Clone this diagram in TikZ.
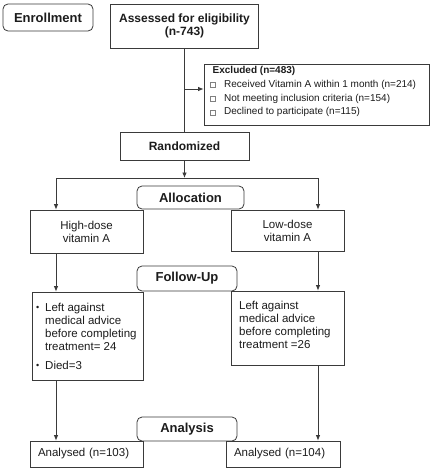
\documentclass[tikz,border=0pt]{standalone}
\usepackage{fontspec}
\setmainfont{Liberation Sans}
\usetikzlibrary{arrows.meta}
\definecolor{ink}{HTML}{3A3A3A}
\definecolor{txt}{HTML}{1C1C1C}
\newcommand{\exclsq}{{\color{gray}\fboxsep=0pt\fboxrule=0.5pt\fbox{\rule{0pt}{4.5pt}\hspace{4.5pt}}}}
\newcommand{\fubullet}{\makebox[9pt][l]{\raisebox{0.5pt}{\fontsize{9}{9}\selectfont\textbullet}}}

\begin{document}
\begin{tikzpicture}[x=1pt,y=-1pt,
  every node/.style={text=txt},
  box/.style={draw=ink,line width=0.8pt,fill=white,inner sep=0pt,align=center},
  stage/.style={box,rounded corners=5pt,font=\fontsize{13}{15}\selectfont\bfseries},
  head/.style={box,font=\fontsize{12}{13}\selectfont\bfseries},
  arm/.style={box,font=\fontsize{11.5}{13}\selectfont},
  note/.style={inner sep=0pt,anchor=north west},
  flow/.style={draw=ink,line width=0.8pt},
  arrow/.style={flow,-{Latex[length=5.5pt,width=4.5pt]}}]
\useasboundingbox (0,0) rectangle (430,471);

% enrollment
\node[stage,minimum width=90pt,minimum height=27pt] (enroll) at (48,17.5) {Enrollment};
\node[head,minimum width=148pt,minimum height=44pt] (assess) at (184.5,26) {Assessed for eligibility\\(n-743)};
\node[box,minimum width=225pt,minimum height=61pt] (excl) at (316.5,94.5) {};
\node[note,font=\fontsize{10}{13.6}\selectfont] (excltext) at (210,64.1)
  {\begin{tabular}{@{}l@{}}
   \hspace*{2.5pt}\textbf{Excluded (n=483)}\\
   \makebox[14pt][l]{\exclsq}Received Vitamin A within 1 month (n=214)\\
   \makebox[14pt][l]{\exclsq}Not meeting inclusion criteria (n=154)\\
   \makebox[14pt][l]{\exclsq}Declined to participate (n=115)
   \end{tabular}};
\node[head,minimum width=129pt,minimum height=28pt] (rand) at (184.5,146) {Randomized};

% allocation
\node[stage,minimum width=107pt,minimum height=23pt] (alloc) at (190.5,197.5) {Allocation};
\node[arm,minimum width=113pt,minimum height=43pt] (high) at (86.5,231.5) {High-dose\\vitamin A};
\node[arm,minimum width=113pt,minimum height=41pt] (low) at (287.5,230.5) {Low-dose\\vitamin A};

% follow-up
\node[stage,minimum width=100pt,minimum height=25pt] (fu) at (187,278.5) {Follow-Up};
\node[arm,minimum width=111pt,minimum height=88pt] (lfu) at (87.5,336) {};
\node[note,font=\fontsize{11.5}{13}\selectfont] (lfutext) at (36,301.9)
  {\begin{tabular}{@{}l@{}l@{}}
   \fubullet & Left against\\
   & medical advice\\
   & before completing\\
   & treatment= 24\\[6pt]
   \fubullet & Died=3
   \end{tabular}};
\node[arm,minimum width=113pt,minimum height=74pt] (rfu) at (287.5,328) {};
\node[note,font=\fontsize{11.5}{13}\selectfont] (rfutext) at (239,300.5)
  {\begin{tabular}{@{}l@{}}
   Left against\\
   medical advice\\
   before completing\\
   treatment =26
   \end{tabular}};

% analysis
\node[stage,minimum width=100pt,minimum height=24pt] (ana) at (187,429) {Analysis};
\node[arm,minimum width=113pt,minimum height=26pt,inner xsep=8pt,text width=97pt,align=left] (la) at (86.5,454) {Analysed (n=103)};
\node[arm,minimum width=114pt,minimum height=26pt,inner xsep=8pt,text width=98pt,align=left] (ra) at (283,454) {Analysed (n=104)};

% connectors
\coordinate (trunk) at (184.5,89);
\coordinate (split) at (184.5,178);
\coordinate (lsplit) at (56,178);
\coordinate (rsplit) at (318,178);
\draw[flow] (assess.south) -- (rand.north);
\draw[arrow] (trunk) -- (trunk -| excl.west);
\draw[arrow] (rand.south) -- (split);
\draw[flow] (lsplit) -- (rsplit);
\draw[arrow] (lsplit) -- (lsplit |- high.north);
\draw[arrow] (rsplit) -- (rsplit |- low.north);
\draw[arrow] (lsplit |- high.south) -- (lsplit |- lfu.north);
\draw[arrow] (rsplit |- low.south) -- (rsplit |- rfu.north);
\draw[arrow] (lsplit |- lfu.south) -- (lsplit |- la.north);
\draw[arrow] (rsplit |- rfu.south) -- (rsplit |- ra.north);
\end{tikzpicture}
\end{document}
